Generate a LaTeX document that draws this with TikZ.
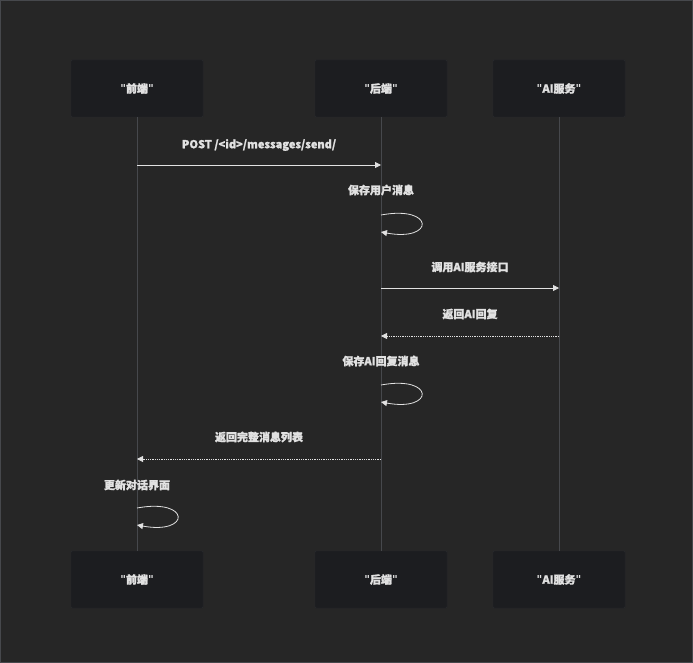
\documentclass[tikz,border=0pt]{standalone}
\usepackage{fontspec}
\setmainfont{Noto Sans CJK SC}[FakeBold=1.5]
\newfontfamily\latinfont{DejaVu Sans}
\newcommand{\qq}{{\latinfont"}}
\usetikzlibrary{arrows.meta}
\usetikzlibrary{positioning}
\definecolor{bgGray}{RGB}{38,38,38}
\definecolor{boxGray}{RGB}{28,29,32}
\definecolor{boxEdge}{RGB}{40,42,46}
\definecolor{lineGray}{RGB}{70,72,76}
\definecolor{txtGray}{RGB}{225,225,225}
\tikzset{actor/.style = {draw=boxEdge,fill=boxGray,minimum width=132pt,minimum height=57pt,text=txtGray,font=\fontsize{11}{13}\selectfont\bfseries,rounded corners=1pt},
  msg/.style = {draw=txtGray,thick,-{Triangle[length=6pt,width=6pt]}},
  reply/.style = {msg,densely dotted},
  lbl/.style = {text=txtGray,font=\fontsize{11}{13}\selectfont\bfseries}}

\begin{document}
\begin{tikzpicture}[x=1pt,y=-1pt]

  \fill[bgGray] (0,0) rectangle (693,663);
  \draw[lineGray] (0.5,0.5) rectangle (692.5,662.5);

  % actors top and bottom
  \node[actor] (fe) at (137,88.5) {\qq 前端\qq};
  \node[actor] (be) at (381,88.5) {\qq 后端\qq};
  \node[actor] (ai) at (559,88.5) {\qq AI服务\qq};
  \node[actor] (feB) at (137,579.5) {\qq 前端\qq};
  \node[actor] (beB) at (381,579.5) {\qq 后端\qq};
  \node[actor] (aiB) at (559,579.5) {\qq AI服务\qq};
  \draw[lineGray] (fe) -- (feB);
  \draw[lineGray] (be) -- (beB);
  \draw[lineGray] (ai) -- (aiB);

  % messages
  \coordinate (m1a) at (137,165); \coordinate (m1b) at (381,165);
  \draw[msg] (m1a) -- (m1b);
  \node[lbl] (t1) at (259,145) {POST /<id>/messages/send/};

  \node[lbl] (t2) at (381,190) {保存用户消息};
  \coordinate (s1a) at (381,215); \coordinate (s1b) at (381,232);
  \draw[msg] (s1a) .. controls (435,205) and (435,242) .. (s1b);

  \coordinate (m3a) at (381,288); \coordinate (m3b) at (559,288);
  \draw[msg] (m3a) -- (m3b);
  \node[lbl] (t3) at (470,267) {调用AI服务接口};

  \coordinate (m4a) at (559,336); \coordinate (m4b) at (381,336);
  \draw[reply] (m4a) -- (m4b);
  \node[lbl] (t4) at (470,314) {返回AI回复};

  \node[lbl] (t5) at (381,361) {保存AI回复消息};
  \coordinate (s2a) at (381,385); \coordinate (s2b) at (381,402);
  \draw[msg] (s2a) .. controls (435,375) and (435,412) .. (s2b);

  \coordinate (m6a) at (381,459); \coordinate (m6b) at (137,459);
  \draw[reply] (m6a) -- (m6b);
  \node[lbl] (t6) at (259,437) {返回完整消息列表};

  \node[lbl] (t7) at (137,485) {更新对话界面};
  \coordinate (s3a) at (137,508); \coordinate (s3b) at (137,525);
  \draw[msg] (s3a) .. controls (191,498) and (191,535) .. (s3b);

\end{tikzpicture}
\end{document}
